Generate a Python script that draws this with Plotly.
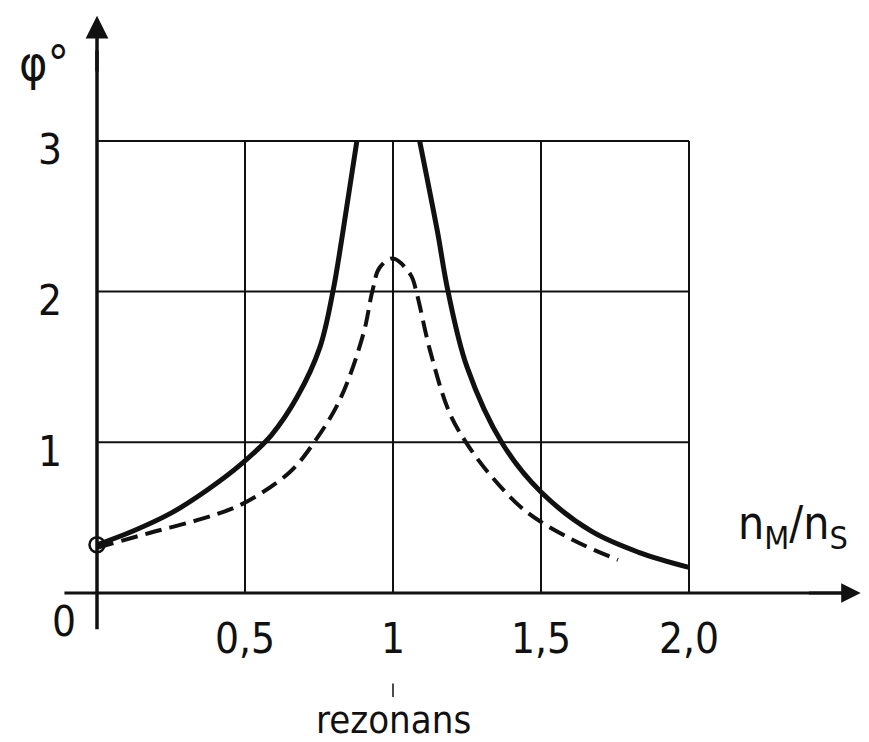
import plotly.graph_objects as go

# Data
solid_left_x = [0.0, 0.12, 0.25, 0.37, 0.49, 0.59, 0.676, 0.753, 0.797, 0.831, 0.878]
solid_left_y = [0.32, 0.41, 0.53, 0.68, 0.86, 1.05, 1.30, 1.63, 2.0, 2.40, 3.0]
solid_right_x = [1.09, 1.15, 1.186, 1.25, 1.37, 1.50, 1.67, 1.83, 2.0]
solid_right_y = [3.0, 2.40, 2.0, 1.50, 0.99, 0.67, 0.41, 0.27, 0.17]
dashed_x = [0.0, 0.18, 0.35, 0.49, 0.65, 0.73, 0.82, 0.90, 0.93, 0.955, 1.0, 1.06, 1.08, 1.125, 1.19, 1.25, 1.33, 1.45, 1.61, 1.76]
dashed_y = [0.30, 0.40, 0.49, 0.59, 0.80, 0.99, 1.28, 1.72, 2.0, 2.16, 2.22, 2.11, 1.99, 1.61, 1.20, 0.99, 0.78, 0.54, 0.35, 0.22]
x_ticks = [0.5, 1.0, 1.5, 2.0]
x_tick_labels = ["0,5", "1", "1,5", "2,0"]
y_ticks = [1, 2, 3]
y_tick_labels = ["1", "2", "3"]

FONT = "DejaVu Sans Condensed, DejaVu Sans"
black = "#111"

fig = go.Figure()

# grid lines
for xv in x_ticks:
    fig.add_shape(type="line", x0=xv, x1=xv, y0=0, y1=3, line=dict(color=black, width=2), layer="below")
for yv in y_ticks:
    fig.add_shape(type="line", x0=0, x1=2.0, y0=yv, y1=yv, line=dict(color=black, width=2), layer="below")

# axes
fig.add_shape(type="line", x0=0, x1=0, y0=-0.24, y1=3.6, line=dict(color=black, width=3.5))
fig.add_shape(type="line", x0=-0.11, x1=2.55, y0=0, y1=0, line=dict(color=black, width=3))
fig.add_annotation(x=0, y=3.83, ax=0, ay=3.45, xref="x", yref="y", axref="x", ayref="y",
                   showarrow=True, arrowhead=2, arrowsize=1.3, arrowwidth=3.5, arrowcolor=black, text="")
fig.add_annotation(x=2.58, y=0, ax=2.4, ay=0, xref="x", yref="y", axref="x", ayref="y",
                   showarrow=True, arrowhead=2, arrowsize=1.3, arrowwidth=3, arrowcolor=black, text="")

# curves
fig.add_trace(go.Scatter(x=solid_left_x, y=solid_left_y, mode="lines",
                         line=dict(color=black, width=5, shape="spline", smoothing=1.0), showlegend=False))
fig.add_trace(go.Scatter(x=solid_right_x, y=solid_right_y, mode="lines",
                         line=dict(color=black, width=5, shape="spline", smoothing=1.0), showlegend=False))
fig.add_trace(go.Scatter(x=dashed_x, y=dashed_y, mode="lines",
                         line=dict(color=black, width=4, dash="17px,8px", shape="spline", smoothing=1.0), showlegend=False))
fig.add_trace(go.Scatter(x=[0.0], y=[0.32], mode="markers",
                         marker=dict(symbol="circle-open", size=15, color=black, line=dict(width=2.5)), showlegend=False))

# tick labels
for xv, t in zip(x_ticks, x_tick_labels):
    fig.add_annotation(x=xv, y=-0.30, text=t, showarrow=False, xref="x", yref="y",
                       font=dict(family=FONT, size=42, color=black))
for yv, t in zip(y_ticks, y_tick_labels):
    fig.add_annotation(x=-0.16, y=yv - 0.06, text=t, showarrow=False, xref="x", yref="y",
                       font=dict(family=FONT, size=42, color=black))
fig.add_annotation(x=-0.11, y=-0.19, text="0", showarrow=False, font=dict(family=FONT, size=42, color=black))
fig.add_annotation(x=-0.18, y=3.52, text="φ°", showarrow=False, font=dict(family=FONT, size=48, color=black))
fig.add_annotation(x=2.35, y=0.44, text="n<sub>M</sub>/n<sub>S</sub>", showarrow=False,
                   font=dict(family=FONT, size=46, color=black))
fig.add_shape(type="line", x0=1.0, x1=1.0, y0=-0.60, y1=-0.69, line=dict(color=black, width=1.5))
fig.add_annotation(x=1.0, y=-0.84, text="rezonans", showarrow=False, font=dict(family=FONT, size=38, color=black))

W, H = 861, 734
X0, Y0 = 89, 585  # pixel position of data origin inside the figure
fig.update_layout(
    width=W, height=H,
    margin=dict(l=0, r=0, t=0, b=0),
    paper_bgcolor="white", plot_bgcolor="white",
    xaxis=dict(range=[-X0 / 296, (W - X0) / 296], visible=False, fixedrange=True),
    yaxis=dict(range=[-(H - Y0) / 150.7, Y0 / 150.7], visible=False, fixedrange=True),
)

fig.write_html("out.html")
